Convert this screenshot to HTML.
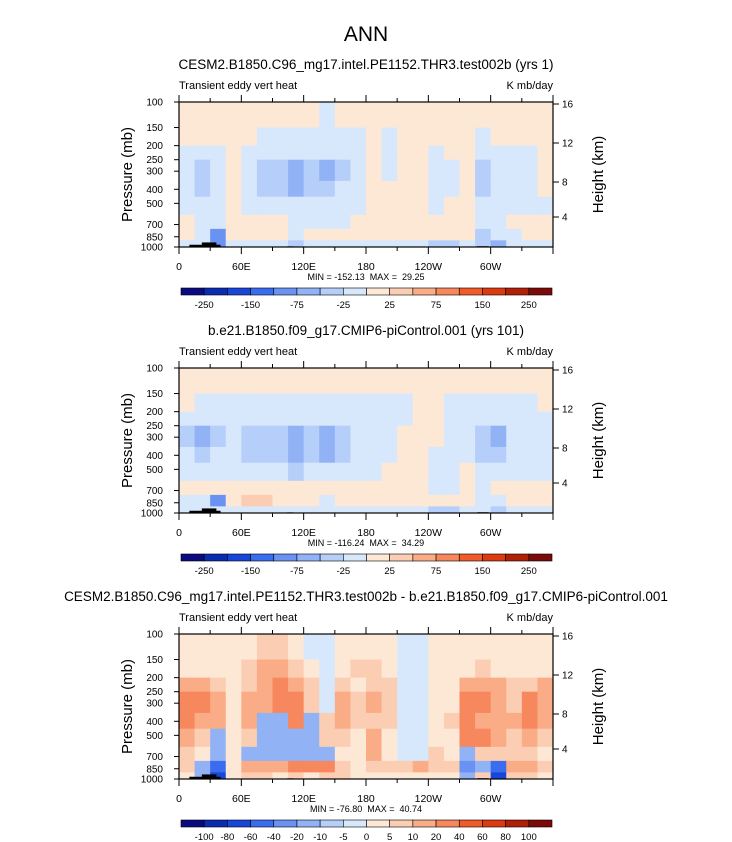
<!DOCTYPE html>
<html><head><meta charset="utf-8"><style>
html,body{margin:0;padding:0;background:#fff;}
svg{display:block;font-family:"Liberation Sans",sans-serif;}
</style></head><body>
<svg id="fig" width="732" height="842" viewBox="0 0 732 842" xmlns="http://www.w3.org/2000/svg">
<text x="366" y="41" font-size="21" text-anchor="middle">ANN</text>
</svg>
<script>
// ---- data ----
const lonEdges = [0,15,30,45,60,75,90,105,120,135,150,165,180,195,210,225,240,255,270,285,300,315,330,345,360];
const presEdges = [100,150,200,250,350,450,600,750,900,1000];
const levels1 = [-250,-200,-150,-100,-75,-50,-25,0,25,50,75,100,150,200,250];
const levels3 = [-100,-80,-60,-40,-20,-10,-5,0,5,10,20,40,60,80,100];
const cbLabels1 = ["-250","-150","-75","-25","25","75","150","250"];
const cbLabels3 = ["-100","-80","-60","-40","-20","-10","-5","0","5","10","20","40","60","80","100"];
const field1 = [
[10,10,10,10,10,10,10,10,10,-10,10,10, 10,10,10,10,10,10,10,10,10,10,10,10],
[10,10,10,10,10,-10,-10,-10,-10,-10,-10,-10, 10,-10,10,10,10,10,10,-10,10,10,10,10],
[-10,-10,-10,10,-10,-10,-10,-10,-10,-10,-10,-10, 10,-10,10,10,-10,10,10,-10,-10,-10,-10,10],
[-10,-40,-10,10,-10,-40,-40,-60,-40,-60,-40,-10, 10,-10,10,10,-10,-10,10,-40,-10,-10,-10,10],
[-10,-40,-10,10,-10,-40,-40,-60,-40,-40,-10,-10, 10,10,10,10,-10,-10,10,-40,-10,-10,-10,10],
[-10,-10,-10,10,-10,-10,-10,-10,-10,-10,-10,-10, 10,10,10,10,-10,10,10,-10,-10,-10,-10,-10],
[10,-10,-10,10,10,10,10,-10,-10,-10,-10,10, 10,10,10,10,10,10,10,-10,-10,10,10,10],
[10,-10,-90,10,10,10,10,-10,10,10,10,10, 10,10,10,10,10,10,10,-40,-10,-10,10,10],
[-10,-10,-90,-10,-10,-10,-10,-40,-10,-10,-10,-10, -10,-10,-10,-10,-40,-40,-10,-40,-60,-10,-10,-10]
];
const field2 = [
[10,10,10,10,10,10,10,10,10,10,10,10, 10,10,10,10,10,10,10,10,10,10,10,10],
[10,-10,-10,-10,-10,-10,-10,-10,-10,-10,-10,-10, -10,-10,-10,10,10,-10,-10,-10,-10,-10,-10,10],
[-10,-10,-10,-10,-10,-10,-10,-10,-10,-10,-10,-10, -10,-10,-10,10,10,-10,-10,-10,-10,-10,-10,-10],
[-40,-60,-40,-10,-40,-40,-40,-60,-40,-60,-40,-10, -10,-10,10,10,10,-10,-10,-40,-60,-10,-10,-10],
[-10,-40,-10,-10,-40,-40,-40,-60,-40,-60,-40,-10, -10,-10,10,10,-10,-10,-10,-40,-40,-10,-10,-10],
[-10,-10,-10,-10,-10,-10,-10,-40,-10,-10,-10,-10, -10,10,10,10,-10,-10,10,-10,-10,-10,-10,-10],
[10,10,10,10,10,10,10,10,10,10,10,10, 10,10,10,10,-10,-10,10,-10,10,10,10,10],
[-10,-10,-90,10,30,30,10,10,10,-10,10,10, 10,10,10,10,10,10,10,-10,-10,10,10,10],
[-10,-10,-10,-10,-10,-10,-10,-10,-10,-10,-10,-10, -10,-10,-10,-10,-40,-40,-10,-10,-40,-10,-10,-10]
];
const field3 = [
[3,3,3,3,3,7,7,3,-3,-3,3,3, 3,3,-3,-3,3,3,3,3,3,3,3,3],
[3,3,3,3,7,15,15,7,3,-3,3,7, 7,3,-3,-3,3,3,3,7,3,3,3,3],
[15,15,7,3,7,15,30,15,7,-3,7,3, 7,7,-3,-3,3,3,15,15,15,7,7,15],
[30,30,15,3,15,15,30,30,7,-3,15,7, 15,7,-3,-3,3,3,30,30,15,7,30,15],
[30,15,15,3,15,-15,-15,30,-15,7,15,7, 7,7,-3,-3,3,7,30,15,15,15,30,15],
[15,7,-15,3,7,-15,-15,-15,-15,7,7,3, 15,3,-3,-3,3,3,30,30,15,7,15,7],
[7,3,-15,3,-15,-15,-15,-15,-15,-15,3,3, 15,3,-3,-3,7,3,-15,7,7,7,7,3],
[7,-15,-60,3,15,15,15,30,30,30,7,3, 7,7,7,15,7,7,-30,-15,-60,15,15,7],
[3,-15,-80,3,7,7,3,7,3,7,7,3, 3,3,3,3,3,3,-15,7,-80,7,7,3]
];
const topoLon0 = [10,22,104,120,287];
const topoLon1 = [40,36,110,156,298];
const topoPres = [965,930,990,992,988];
const palette = ["#0b0b80","#0a2cb0","#1846d8","#3a6cf0","#6a92f2","#92b2f6","#b6cefa","#d7e7fc","#fde8d6","#fbcdb2","#f9ac86","#f7875c","#f15b2c","#dc3a10","#b01f08","#7d0a0a"];
const plots = [
 {top:102, title:"CESM2.B1850.C96_mg17.intel.PE1152.THR3.test002b (yrs 1)", field:field1, levels:levels1, labels:cbLabels1, every:2, mm:"MIN = -152.13\u00a0\u00a0MAX =\u00a0\u00a029.25", name:"test"},
 {top:368, title:"b.e21.B1850.f09_g17.CMIP6-piControl.001 (yrs 101)", field:field2, levels:levels1, labels:cbLabels1, every:2, mm:"MIN = -116.24\u00a0\u00a0MAX =\u00a0\u00a034.29", name:"control"},
 {top:634, title:"CESM2.B1850.C96_mg17.intel.PE1152.THR3.test002b - b.e21.B1850.f09_g17.CMIP6-piControl.001", field:field3, levels:levels3, labels:cbLabels3, every:1, mm:"MIN = -76.80\u00a0\u00a0MAX =\u00a0\u00a040.74", name:"diff"}
];
// ---- drawing ----
const NS="http://www.w3.org/2000/svg";
const svg=document.getElementById('fig');
const X0=179, W=374, H=145, CBX=181, CBW=371;
function mk(tag,attrs,parent){const e=document.createElementNS(NS,tag);for(const k in attrs)e.setAttribute(k,attrs[k]);(parent||svg).appendChild(e);return e;}
function colorFor(v,lv){let i=0;while(i<lv.length&&v>=lv[i])i++;return palette[i];}
plots.forEach((pl,pi)=>{
 const T=pl.top;
 const xS=lon=>X0+lon/360*W;
 const yS=p=>T+Math.log10(p/100)*H;
 const g=mk('g',{});
 
 
 let t=mk('text',{x:366,y:T-33,'font-size':13.5,'text-anchor':'middle'},g);t.textContent=pl.title;
 
 
 t=mk('text',{x:X0,y:T-13,'font-size':11},g);t.textContent="Transient eddy vert heat";
 
 
 t=mk('text',{x:X0+W,y:T-13,'font-size':11,'text-anchor':'end'},g);t.textContent="K mb/day";
 
 
 pl.field.forEach((row,ri)=>{
  row.forEach((v,ci)=>{
   const x1=xS(lonEdges[ci]),x2=xS(lonEdges[ci+1]),y1=yS(presEdges[ri]),y2=yS(presEdges[ri+1]);
   const r=mk('rect',{x:x1,y:y1,width:x2-x1+0.4,height:y2-y1+0.4,fill:colorFor(v,pl.levels)},g);
   
   
  });
 });
 topoLon0.forEach((l0,k)=>{
  const y1=yS(topoPres[k]);
  const r=mk('rect',{x:xS(l0),y:y1,width:xS(topoLon1[k])-xS(l0),height:T+H-y1,fill:"#000"},g);
  
  
 });
 const fr=mk('rect',{x:X0,y:T,width:W,height:H,fill:'none',stroke:'#000','stroke-width':1.2},g);
 
 
 for(let lon=0;lon<=360;lon+=30){
  const major=lon%60===0, len=major?7:4;
  mk('line',{x1:xS(lon),x2:xS(lon),y1:T,y2:T-len,stroke:'#000'},g);
  mk('line',{x1:xS(lon),x2:xS(lon),y1:T+H,y2:T+H+len,stroke:'#000'},g);
 }
 const lonLab=["0","60E","120E","180","120W","60W"];
 lonLab.forEach((s,k)=>{const tt=mk('text',{x:xS(k*60),y:T+168,'font-size':10.5,'text-anchor':'middle'},g);tt.textContent=s;
  
  });
 [100,150,200,250,300,400,500,700,850,1000].forEach(p=>{
  mk('line',{x1:X0,x2:X0-5,y1:yS(p),y2:yS(p),stroke:'#000'},g);
  const tt=mk('text',{x:163,y:yS(p)+3.5,'font-size':10,'text-anchor':'end'},g);tt.textContent=p;
  
  
 });
 [[16,2],[12,41],[8,80],[4,115]].forEach(([km,off])=>{
  mk('line',{x1:X0+W,x2:X0+W+6,y1:T+off,y2:T+off,stroke:'#000'},g);
  const tt=mk('text',{x:562,y:T+off+3.5,'font-size':10},g);tt.textContent=km;
  
  
 });
 let yl=mk('text',{transform:`translate(132,${T+H/2}) rotate(-90)`,'font-size':15,'text-anchor':'middle'},g);yl.textContent="Pressure (mb)";
 
 
 yl=mk('text',{transform:`translate(603,${T+H/2}) rotate(-90)`,'font-size':15,'text-anchor':'middle'},g);yl.textContent="Height (km)";
 
 
 t=mk('text',{x:366,y:T+178,'font-size':9,'text-anchor':'middle'},g);t.textContent=pl.mm;
 
 
 const bw=CBW/palette.length, cy=T+186;
 palette.forEach((c,k)=>{const r=mk('rect',{x:CBX+k*bw,y:cy,width:bw,height:7,fill:c,stroke:'#000','stroke-width':0.6},g);
  
  });
 pl.labels.forEach((s,k)=>{const bi=k*pl.every;
  const tt=mk('text',{x:CBX+(bi+1)*bw,y:cy+20,'font-size':9.5,'text-anchor':'middle'},g);tt.textContent=s;
  
  });
});
</script>
</body></html>
